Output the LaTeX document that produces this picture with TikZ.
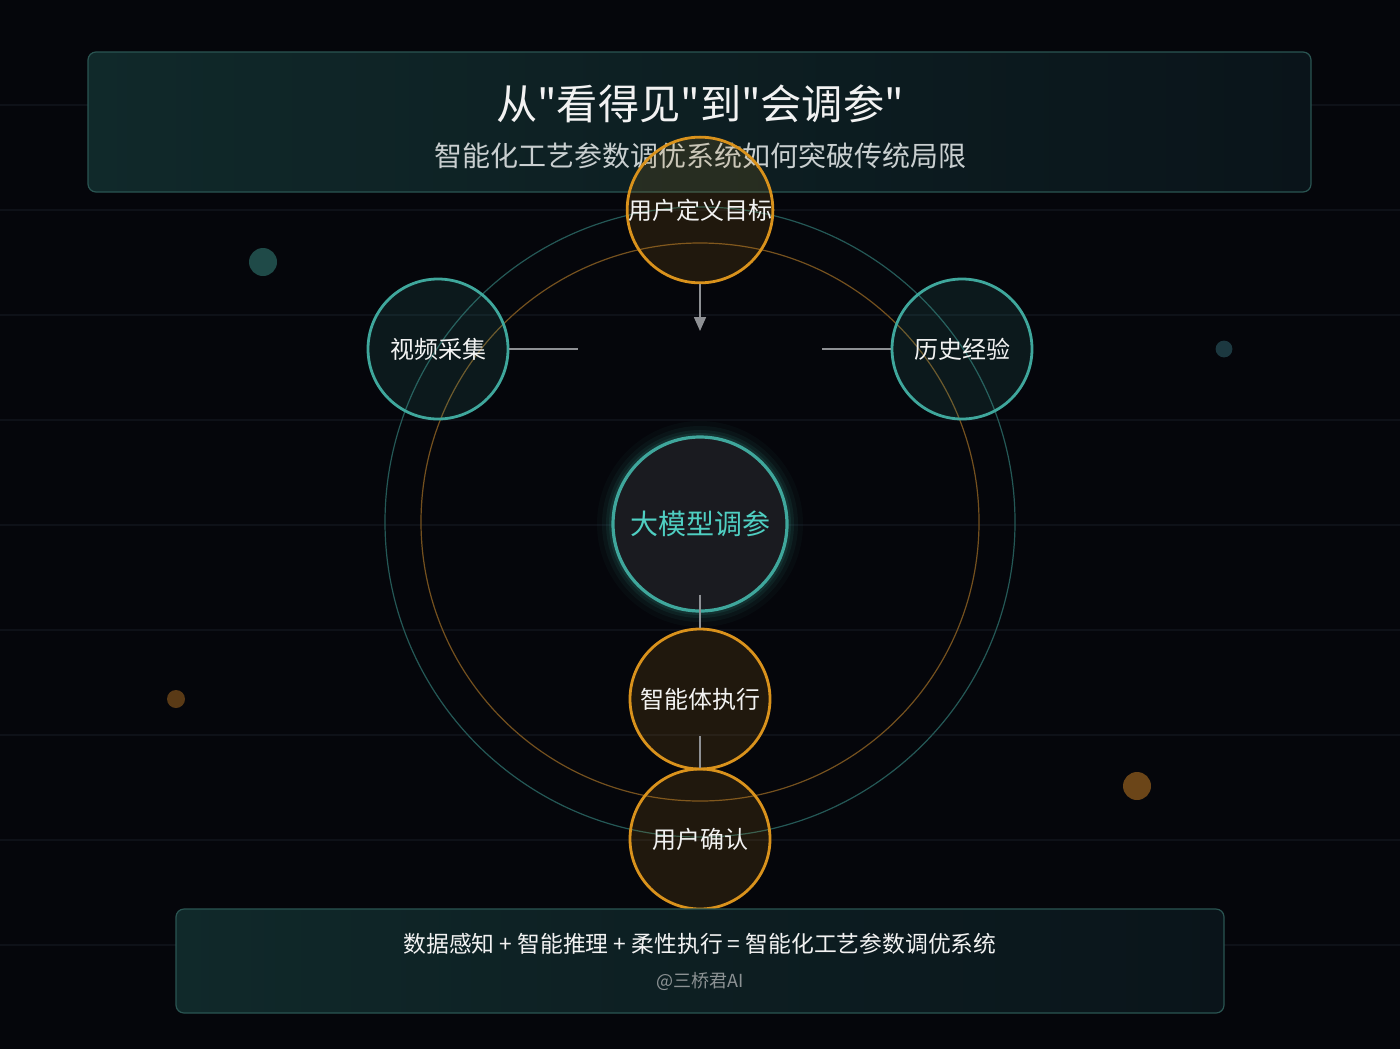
\documentclass[tikz,border=0pt]{standalone}
\usepackage{fontspec}
\setmainfont{Noto Sans CJK SC}[Ligatures=TeXOff]
\usetikzlibrary{arrows.meta}
\definecolor{bg}{HTML}{05060B}
\definecolor{gridc}{HTML}{0E1118}
\definecolor{tealc}{HTML}{3FA79C}
\definecolor{tealring}{HTML}{245856}
\definecolor{orangec}{HTML}{D9921C}
\definecolor{orangering}{HTML}{74501E}
\definecolor{panelA}{HTML}{10292A}
\definecolor{panelB}{HTML}{0A141A}
\definecolor{panelborder}{HTML}{2A5552}
\definecolor{conngray}{HTML}{8E9094}
\definecolor{txtw}{HTML}{F2F2F2}
\definecolor{subtxt}{HTML}{C9CFD0}
\definecolor{centertxt}{HTML}{4FCFC2}
\definecolor{centerfill}{HTML}{1A1B20}
\definecolor{dotA}{HTML}{1F4A48}
\definecolor{dotB}{HTML}{1C3840}
\definecolor{dotC}{HTML}{5A3A16}
\definecolor{dotD}{HTML}{6B4518}
\definecolor{signc}{HTML}{8C9294}
\tikzset{
  gridline/.style={draw=gridc, line width=0.6pt},
  panel/.style={draw=panelborder, line width=0.6pt, rounded corners=4pt, left color=panelA, right color=panelB, inner sep=0pt},
  onode/.style={circle, draw=orangec, line width=1.4pt, fill=orangec, fill opacity=0.13, text opacity=1, text=txtw, minimum size=70pt, inner sep=0pt, font=\fontsize{12}{14}\selectfont},
  tnode/.style={circle, draw=tealc, line width=1.4pt, fill=tealc, fill opacity=0.12, text opacity=1, text=txtw, minimum size=70pt, inner sep=0pt, font=\fontsize{12}{14}\selectfont},
  cnode/.style={circle, draw=tealc, line width=1.6pt, fill=centerfill, text=centertxt, minimum size=87pt, inner sep=0pt, font=\fontsize{14}{16}\selectfont},
  conn/.style={draw=conngray, line width=0.8pt},
}
\begin{document}
\begin{tikzpicture}[x=0.5pt,y=-0.5pt]
\fill[bg] (0,0) rectangle (1400,1049);
\useasboundingbox (0,0) rectangle (1400,1049);
\foreach \yy in {105,210,315,420,525,630,735,840,945}
  \draw[gridline] (0,\yy) -- (1400,\yy);

% background dots
\fill[dotA] (263,262) circle[radius=7pt];
\fill[dotB] (1224,349) circle[radius=4.2pt];
\fill[dotC] (176,699) circle[radius=4.5pt];
\fill[dotD] (1137,786) circle[radius=7pt];

% top panel
\node[panel, minimum width=611.5pt, minimum height=70pt] (toppanel) at (699.5,122) {};
\node[text=txtw, font=\fontsize{20.6}{24}\selectfont] (title) at (700,104) {从"看得见"到"会调参"};
\node[text=subtxt, font=\fontsize{14}{16}\selectfont] (subtitle) at (700,156) {智能化工艺参数调优系统如何突破传统局限};

% rings
\draw[tealring, line width=0.6pt] (700,522) circle[radius=157.5pt];
\draw[orangering, line width=0.6pt] (700,522) circle[radius=139.5pt];

% glow of center
\foreach \w/\o in {16/0.04,11/0.06,7/0.09,4/0.12}
  \draw[tealc, line width=\w pt, opacity=\o] (700,524) circle[radius=43.5pt];

% nodes
\node[onode] (goal) at (700,210) {用户定义目标};
\node[tnode] (video) at (438,349) {视频采集};
\node[tnode] (hist) at (962,349) {历史经验};
\node[cnode] (llm) at (700,524) {大模型调参};
\node[onode] (agent) at (700,699) {智能体执行};
\node[onode] (confirm) at (700,839) {用户确认};

% connectors
\coordinate (goalEnd) at (700,331);
\coordinate (videoEnd) at (578,349);
\coordinate (histEnd) at (822,349);
\draw[conn, -{Triangle[length=7pt,width=6pt]}, fill=conngray] (goal.south) -- (goalEnd);
\draw[conn] (video.east) -- (videoEnd);
\draw[conn] (hist.west) -- (histEnd);
\draw[conn] ([yshift=9pt]llm.south) -- (agent.north);
\draw[conn] ([yshift=17pt]agent.south) -- (confirm.north);

% bottom panel
\node[panel, minimum width=524pt, minimum height=52pt] (botpanel) at (700,961) {};
\node[text=txtw, font=\fontsize{11.4}{13}\selectfont] (formula) at (700,944) {数据感知 + 智能推理 + 柔性执行 = 智能化工艺参数调优系统};
\node[text=signc, font=\fontsize{9}{11}\selectfont] (sign) at (700,981) {@三桥君AI};
\end{tikzpicture}
\end{document}
